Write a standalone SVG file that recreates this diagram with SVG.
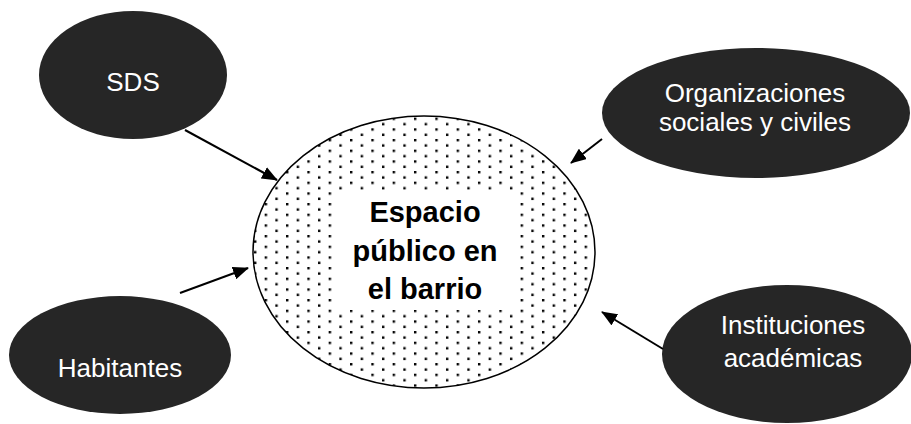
<svg xmlns="http://www.w3.org/2000/svg" width="911" height="424" viewBox="0 0 911 424">
  <style>
    .dark { fill: #262626; }
    .lbl { font-family: "Liberation Sans", Arial, sans-serif; font-size: 26px; fill: #ffffff; text-anchor: middle; }
    .main { font-family: "Liberation Sans", Arial, sans-serif; font-size: 29px; font-weight: bold; fill: #000000; text-anchor: middle; }
    .conn { stroke: #000000; stroke-width: 2; fill: none; marker-end: url(#arrow); }
  </style>
  <defs>
    <pattern id="dots" patternUnits="userSpaceOnUse" x="286" y="235" width="21.33" height="10.67">
      <rect x="0" y="0" width="2.4" height="2.4" fill="#000"/>
      <rect x="10.67" y="5.33" width="2.4" height="2.4" fill="#000"/>
    </pattern>
    <marker id="arrow" viewBox="0 0 16 13" refX="15" refY="6.5" markerWidth="16" markerHeight="13" markerUnits="userSpaceOnUse" orient="auto">
      <path d="M0,0 L16,6.5 L0,13 z" fill="#000"/>
    </marker>
  </defs>
  <rect width="911" height="424" fill="#ffffff"/>

  <g id="center">
    <ellipse cx="424" cy="252" rx="171" ry="136" fill="#ffffff"/>
    <ellipse cx="424" cy="252" rx="171" ry="136" fill="url(#dots)" stroke="#000" stroke-width="1.5"/>
    <rect x="332" y="191" width="186" height="119" fill="#ffffff"/>
    <text class="main" x="425" y="222">Espacio</text>
    <text class="main" x="425" y="261">público en</text>
    <text class="main" x="425" y="299">el barrio</text>
  </g>

  <g id="sds">
    <ellipse class="dark" cx="133" cy="75" rx="94" ry="64"/>
    <text class="lbl" x="133" y="91">SDS</text>
  </g>

  <g id="organizaciones">
    <ellipse class="dark" cx="756" cy="113" rx="154" ry="65"/>
    <text class="lbl" x="755" y="102">Organizaciones</text>
    <text class="lbl" x="755" y="131">sociales y civiles</text>
  </g>

  <g id="habitantes">
    <ellipse class="dark" cx="120" cy="355" rx="111" ry="59"/>
    <text class="lbl" x="120" y="377">Habitantes</text>
  </g>

  <g id="instituciones">
    <ellipse class="dark" cx="787" cy="354" rx="125" ry="69"/>
    <text class="lbl" x="793" y="334">Instituciones</text>
    <text class="lbl" x="793" y="367">académicas</text>
  </g>

  <g id="connectors">
    <line class="conn" x1="185" y1="130" x2="277" y2="180"/>
    <line class="conn" x1="602" y1="139" x2="571" y2="163"/>
    <line class="conn" x1="180" y1="293" x2="248" y2="268"/>
    <line class="conn" x1="663" y1="349" x2="602" y2="312"/>
  </g>
</svg>
